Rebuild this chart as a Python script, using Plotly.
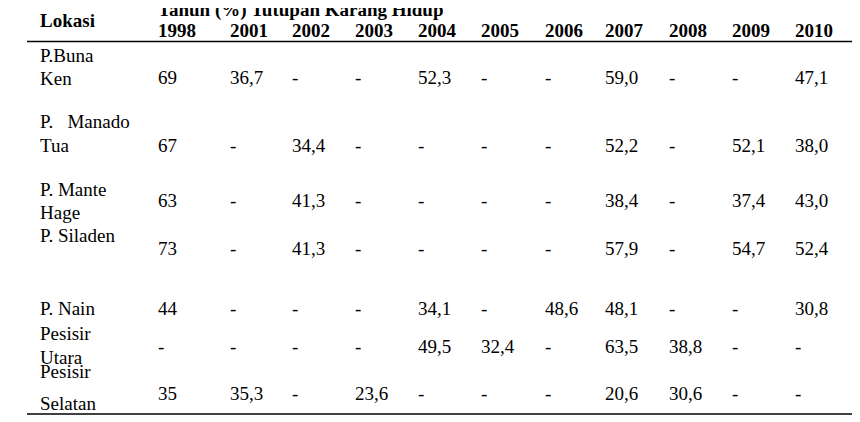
import plotly.graph_objects as go

# table data
years = ['1998', '2001', '2002', '2003', '2004', '2005', '2006', '2007', '2008', '2009', '2010']
lokasi = [
    ['P.Buna', 'Ken'],
    ['P.\u00a0\u00a0\u00a0Manado', 'Tua'],
    ['P. Mante', 'Hage'],
    ['P. Siladen'],
    ['P. Nain'],
    ['Pesisir', 'Utara'],
    ['Pesisir', 'Selatan'],
]
buna_ken = [69, 36.7, None, None, 52.3, None, None, 59.0, None, None, 47.1]
manado_tua = [67, None, 34.4, None, None, None, None, 52.2, None, 52.1, 38.0]
mante_hage = [63, None, 41.3, None, None, None, None, 38.4, None, 37.4, 43.0]
siladen = [73, None, 41.3, None, None, None, None, 57.9, None, 54.7, 52.4]
nain = [44, None, None, None, 34.1, None, 48.6, 48.1, None, None, 30.8]
pesisir_utara = [None, None, None, None, 49.5, 32.4, None, 63.5, 38.8, None, None]
pesisir_selatan = [35, 35.3, None, 23.6, None, None, None, 20.6, 30.6, None, None]
rows = [buna_ken, manado_tua, mante_hage, siladen, nain, pesisir_utara, pesisir_selatan]

# layout of the table (page pixels)
col_x = [156, 228, 290, 353, 416, 479, 543, 603, 667, 730, 793]
label_y = [[55, 78], [121, 145], [189, 212], [235], [308], [333, 357], [371, 403]]
value_y = [77, 145, 200, 248, 308, 346, 393]
FONT = dict(family='Liberation Serif', size=19, color='black')
PAGE_MARGIN = 8  # default body margin of the html page


def fmt(v, first):
    if v is None:
        return '-'
    if first:
        return str(int(v))
    return f'{v:.1f}'.replace('.', ',')


fig = go.Figure()

def txt(x, y, s, yanchor='middle'):
    fig.add_annotation(x=x, y=y, text=s, xref='x', yref='y', xanchor='left', yanchor=yanchor,
                       showarrow=False, font=FONT)

# header
txt(38, 20, '<b>Lokasi</b>')
txt(156, 23, '<b>Tahun (%) Tutupan Karang Hidup</b>', yanchor='bottom')
for x, yr in zip(col_x, years):
    txt(x, 30, f'<b>{yr}</b>')

# body
for names, ys, vals, vy in zip(lokasi, label_y, rows, value_y):
    for n, y in zip(names, ys):
        txt(38, y, n)
    for i, (x, v) in enumerate(zip(col_x, vals)):
        txt(x, vy, fmt(v, i == 0))

txt(27, 428, 'Sumber: BTNB, 2007')

fig.add_shape(type='line', x0=27, x1=855, y0=41.5, y1=41.5, xref='x', yref='y', line=dict(color='black', width=1.5))
fig.add_shape(type='line', x0=27, x1=855, y0=414, y1=414, xref='x', yref='y', line=dict(color='black', width=1.5))

fig.update_xaxes(range=[PAGE_MARGIN, 860 + PAGE_MARGIN], visible=False)
fig.update_yaxes(range=[422 + PAGE_MARGIN, PAGE_MARGIN], visible=False)
fig.update_layout(
    width=860, height=422,
    margin=dict(l=0, r=0, t=0, b=0),
    plot_bgcolor='white', paper_bgcolor='white',
    showlegend=False,
)

fig.write_html('out.html')
